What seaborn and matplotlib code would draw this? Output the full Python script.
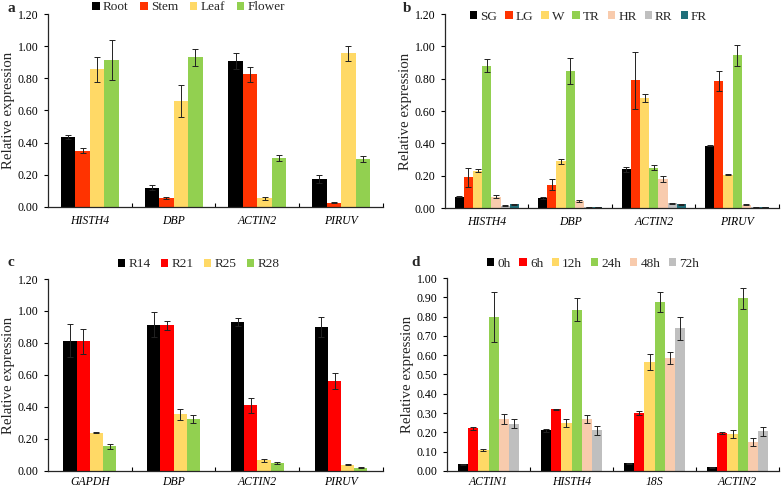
import numpy as np
import pandas as pd
import matplotlib
matplotlib.use("Agg")
import matplotlib.pyplot as plt
import seaborn as sns
from matplotlib.ticker import FormatStrFormatter, FixedLocator

# ---------------- data ----------------
# panel a
a_genes = ["HISTH4", "DBP", "ACTIN2", "PIRUV"]
a_groups = ["Root", "Stem", "Leaf", "Flower"]
a_root = [0.435, 0.120, 0.905, 0.175]
a_stem = [0.350, 0.055, 0.825, 0.025]
a_leaf = [0.855, 0.660, 0.055, 0.955]
a_flower = [0.915, 0.930, 0.305, 0.300]
a_root_err = [0.015, 0.015, 0.050, 0.025]
a_stem_err = [0.015, 0.005, 0.045, 0.003]
a_leaf_err = [0.075, 0.100, 0.010, 0.045]
a_flower_err = [0.125, 0.055, 0.020, 0.020]

# panel b
b_genes = ["HISTH4", "DBP", "ACTIN2", "PIRUV"]
b_groups = ["SG", "LG", "W", "TR", "HR", "RR", "FR"]
b_sg = [0.070, 0.060, 0.240, 0.385]
b_lg = [0.190, 0.145, 0.790, 0.785]
b_w = [0.230, 0.290, 0.680, 0.205]
b_tr = [0.880, 0.850, 0.250, 0.945]
b_hr = [0.070, 0.045, 0.180, 0.020]
b_rr = [0.015, 0.008, 0.028, 0.005]
b_fr = [0.022, 0.008, 0.022, 0.005]
b_sg_err = [0.005, 0.005, 0.015, 0.002]
b_lg_err = [0.058, 0.035, 0.175, 0.060]
b_w_err = [0.010, 0.015, 0.025, 0.003]
b_tr_err = [0.040, 0.080, 0.015, 0.065]
b_hr_err = [0.010, 0.005, 0.020, 0.002]
b_rr_err = [0.002, 0.001, 0.002, 0.001]
b_fr_err = [0.002, 0.001, 0.002, 0.001]

# panel c
c_genes = ["GAPDH", "DBP", "ACTIN2", "PIRUV"]
c_groups = ["R14", "R21", "R25", "R28"]
c_r14 = [0.815, 0.915, 0.930, 0.900]
c_r21 = [0.810, 0.910, 0.410, 0.560]
c_r25 = [0.240, 0.355, 0.065, 0.038]
c_r28 = [0.155, 0.325, 0.048, 0.020]
c_r14_err = [0.105, 0.080, 0.025, 0.060]
c_r21_err = [0.080, 0.030, 0.045, 0.050]
c_r25_err = [0.002, 0.035, 0.010, 0.003]
c_r28_err = [0.015, 0.025, 0.005, 0.003]

# panel d
d_genes = ["ACTIN1", "HISTH4", "18S", "ACTIN2"]
d_groups = ["0h", "6h", "12h", "24h", "48h", "72h"]
d_0h = [0.035, 0.210, 0.040, 0.018]
d_6h = [0.220, 0.320, 0.300, 0.195]
d_12h = [0.110, 0.250, 0.565, 0.190]
d_24h = [0.800, 0.835, 0.875, 0.895]
d_48h = [0.270, 0.270, 0.585, 0.150]
d_72h = [0.245, 0.210, 0.740, 0.205]
d_0h_err = [0.002, 0.008, 0.003, 0.002]
d_6h_err = [0.010, 0.003, 0.010, 0.005]
d_12h_err = [0.005, 0.020, 0.040, 0.020]
d_24h_err = [0.130, 0.060, 0.050, 0.055]
d_48h_err = [0.025, 0.020, 0.030, 0.020]
d_72h_err = [0.025, 0.025, 0.060, 0.025]

BLACK = "#000000"
ORED = "#ff3300"
RED = "#ff0000"
YEL = "#ffd966"
GRN = "#92d050"
SAL = "#f8cbad"
GRY = "#bfbfbf"
TEAL = "#1f6f7a"

sns.set_theme(style="ticks")
plt.rcParams["font.family"] = ["Liberation Serif", "DejaVu Serif"]
plt.rcParams["axes.linewidth"] = 0.9
plt.rcParams["xtick.color"] = "black"
plt.rcParams["ytick.color"] = "black"

fig = plt.figure(figsize=(7.84, 4.90), dpi=100)


def panel(rect, genes, groups, vals, errs, colors, ymax, ystep, width,
          letter, letter_xy, leg_x, leg_y, colsp, xpad):
    ax = fig.add_axes(rect)
    rows = []
    for g, v in zip(groups, vals):
        for gene, val in zip(genes, v):
            rows.append({"gene": gene, "group": g, "value": val})
    df = pd.DataFrame(rows)
    sns.barplot(data=df, x="gene", y="value", hue="group", order=genes,
                hue_order=groups, palette=colors, width=width, gap=0,
                saturation=1, errorbar=None, ax=ax, linewidth=0)
    for cont, e in zip(ax.containers, errs):
        xs = [p.get_x() + p.get_width() / 2 for p in cont]
        ys = [p.get_height() for p in cont]
        ax.errorbar(xs, ys, yerr=e, fmt="none", ecolor="#222222",
                    elinewidth=0.7, capsize=2.2, capthick=0.7)
    ax.set_ylim(0, ymax)
    ax.set_xlim(-0.5, len(genes) - 0.5)
    ax.set_yticks(np.round(np.arange(0, ymax + 1e-9, ystep), 2))
    ax.yaxis.set_major_formatter(FormatStrFormatter("%.2f"))
    ax.tick_params(axis="y", labelsize=8.5, length=3, width=0.8, pad=4)
    ax.tick_params(axis="x", which="major", length=0, labelsize=8.5, pad=xpad)
    ax.xaxis.set_minor_locator(FixedLocator(np.arange(0.5, len(genes), 1)))
    ax.tick_params(axis="x", which="minor", length=3, width=0.8, direction="in")
    for lab in ax.get_xticklabels():
        lab.set_fontstyle("italic")
    sns.despine(ax=ax)
    ax.set_xlabel("")
    ax.set_ylabel("Relative expression", fontsize=10.7, labelpad=2)
    sns.move_legend(ax, "center", bbox_to_anchor=(leg_x, leg_y),
                    ncol=len(groups), frameon=False, title=None,
                    fontsize=9.5, handlelength=0.55, handleheight=0.55,
                    handletextpad=0.25, columnspacing=colsp, borderaxespad=0)
    fig.text(letter_xy[0], letter_xy[1], letter, fontsize=11,
             fontweight="bold", ha="left", va="center")
    return ax


panel([0.0612, 0.5776, 0.4273, 0.3938], a_genes, a_groups,
      [a_root, a_stem, a_leaf, a_flower],
      [a_root_err, a_stem_err, a_leaf_err, a_flower_err],
      [BLACK, ORED, YEL, GRN], 1.2, 0.2, 0.69, "a",
      (8 / 784, 1 - 8 / 490), 0.42, 1.035, 0.9, 6)

panel([0.5676, 0.5755, 0.4260, 0.3959], b_genes, b_groups,
      [b_sg, b_lg, b_w, b_tr, b_hr, b_rr, b_fr],
      [b_sg_err, b_lg_err, b_w_err, b_tr_err, b_hr_err, b_rr_err, b_fr_err],
      [BLACK, ORED, YEL, GRN, SAL, GRY, TEAL], 1.2, 0.2, 0.77, "b",
      (403 / 784, 1 - 8 / 490), 0.43, 0.985, 0.6, 6)

panel([0.0612, 0.0390, 0.4273, 0.3916], c_genes, c_groups,
      [c_r14, c_r21, c_r25, c_r28],
      [c_r14_err, c_r21_err, c_r25_err, c_r28_err],
      [BLACK, RED, YEL, GRN], 1.2, 0.2, 0.63, "c",
      (8 / 784, 1 - 263 / 490), 0.45, 1.077, 0.8, 3.5)

panel([0.5702, 0.0390, 0.4235, 0.3936], d_genes, d_groups,
      [d_0h, d_6h, d_12h, d_24h, d_48h, d_72h],
      [d_0h_err, d_6h_err, d_12h_err, d_24h_err, d_48h_err, d_72h_err],
      [BLACK, RED, YEL, GRN, SAL, GRY], 1.0, 0.1, 0.73, "d",
      (411 / 784, 1 - 263 / 490), 0.44, 1.072, 0.65, 3.5)

fig.savefig("out.png", dpi=100)
